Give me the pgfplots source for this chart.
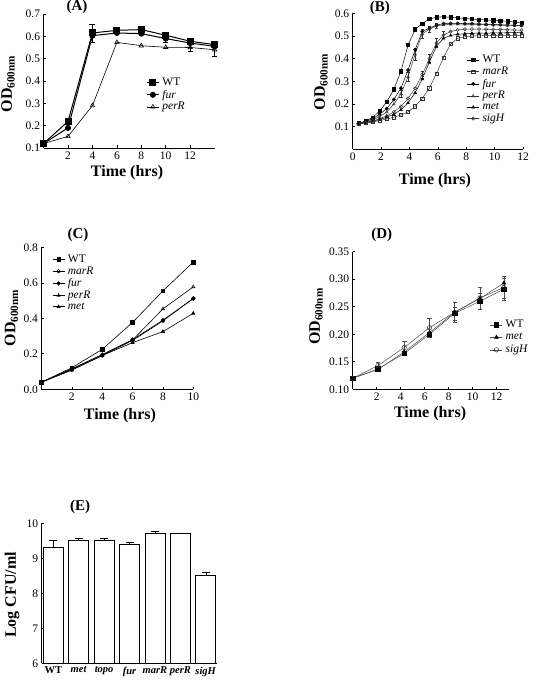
\documentclass[border=0pt]{standalone}
\usepackage{fontspec}
\setmainfont{Liberation Serif}
\usepackage{pgfplots}
\pgfplotsset{compat=1.18}
\newcommand\labfont{\fontsize{16}{18}\selectfont\bfseries}
\newcommand\titfont{\fontsize{15}{17}\selectfont\bfseries}
\pgfplotsset{
  every axis/.append style={
    scale only axis, axis lines*=left, clip=false,
    tick align=inside, major tick length=2.5pt,
    tick style={black, line width=0.6pt},
    axis line style={line width=0.8pt},
    ticklabel style={font=\fontsize{11.5}{13}\selectfont},
    /pgf/number format/assume math mode=true,
    legend cell align=left,
    legend style={draw=none, fill=none, font=\fontsize{11.5}{12}\selectfont, row sep=0.8pt, column sep=2pt, inner sep=0pt, nodes={inner sep=1pt}},
    legend image code/.code={\draw[mark repeat=2,mark phase=2,#1] plot coordinates {(0pt,0pt) (6pt,0pt) (12pt,0pt)};},
    error bars/error bar style={line width=0.5pt},
  },
}
\begin{document}
\begin{tikzpicture}
% ---------------- (A)
\begin{axis}[at={(43.6pt,535pt)}, anchor=south west, width=171pt, height=134pt,
  xmin=0, xmax=14, ymin=0.1, ymax=0.7, xtick={2,4,6,8,10,12},
  ytick={0.1,0.2,0.3,0.4,0.5,0.6,0.7},
  yticklabel style={/pgf/number format/.cd,fixed,fixed zerofill,precision=1},
  legend style={at={(0.6,0.53)}, anchor=north west}]
\addplot[black, line width=1pt, mark=square*, mark size=3pt, error bars/.cd, y dir=both, y explicit]
 coordinates {(0,0.12) (2,0.219) (4,0.615)+-(0,0.04) (6,0.627)+-(0,0.008) (8,0.63)+-(0,0.006) (10,0.605)+-(0,0.01) (12,0.578)+-(0,0.01) (14,0.563)+-(0,0.01)};
\addlegendentry{WT}
\addplot[black, line width=1pt, mark=*, mark size=2.5pt, error bars/.cd, y dir=both, y explicit]
 coordinates {(0,0.12) (2,0.19) (4,0.603) (6,0.615) (8,0.612) (10,0.59)+-(0,0.015) (12,0.57) (14,0.555)};
\addlegendentry{\textit{fur}}
\addplot[black, line width=0.6pt, mark=triangle, mark size=2.5pt, mark options={fill=white}, error bars/.cd, y dir=both, y explicit]
 coordinates {(0,0.12) (2,0.152) (4,0.29) (6,0.573) (8,0.558) (10,0.551) (12,0.55)+-(0,0.015) (14,0.54)+-(0,0.03)};
\addlegendentry{\textit{perR}}
\node[font=\titfont] at ([yshift=7pt]rel axis cs:0.195,1) {(A)};
\node[font=\labfont] at ([yshift=-25pt]rel axis cs:0.488,0) {Time (hrs)};
\node[font=\labfont, rotate=90] at ([xshift=-35.6pt]rel axis cs:0,0.478) {OD\textsubscript{600nm}};
\end{axis}
% ---------------- (B)
\begin{axis}[at={(352.7pt,533.6pt)}, anchor=south west, width=170.3pt, height=136pt,
  xmin=0, xmax=12, ymin=0, ymax=0.6, xtick={0,2,4,6,8,10,12},
  ytick={0.1,0.2,0.3,0.4,0.5,0.6},
  yticklabel style={/pgf/number format/.cd,fixed,fixed zerofill,precision=1},
  legend style={at={(0.67,0.7)}, anchor=north west},
  every axis plot/.append style={line width=0.5pt, mark size=1.6pt}]
\addplot[black, mark=square*] coordinates {(0.4,0.115) (0.9,0.125) (1.4,0.14) (1.9,0.17) (2.4,0.21) (2.9,0.265) (3.4,0.345) (3.9,0.46) (4.4,0.53) (4.9,0.555) (5.4,0.575) (5.9,0.583) (6.4,0.585) (6.9,0.583) (7.4,0.58) (7.9,0.578) (8.4,0.575) (8.9,0.573) (9.4,0.571) (9.9,0.57) (10.4,0.568) (10.9,0.565) (11.4,0.562) (11.9,0.558)};
\addlegendentry{WT}
\addplot[black!80, mark=square, mark options={fill=white}] coordinates {(0.4,0.112) (0.9,0.116) (1.4,0.121) (1.9,0.127) (2.4,0.134) (2.9,0.142) (3.4,0.152) (3.9,0.165) (4.4,0.19) (4.9,0.225) (5.4,0.27) (5.9,0.335) (6.4,0.405) (6.9,0.465) (7.4,0.49) (7.9,0.497) (8.4,0.5) (8.9,0.501) (9.4,0.502) (9.9,0.502) (10.4,0.503) (10.9,0.503) (11.4,0.503) (11.9,0.503)};
\addlegendentry{\textit{marR}}
\addplot[black, mark=*] coordinates {(0.4,0.115) (0.9,0.122) (1.4,0.135) (1.9,0.155) (2.4,0.18) (2.9,0.22) (3.4,0.27) (3.9,0.35) (4.4,0.44) (4.9,0.52) (5.4,0.535) (5.9,0.548) (6.4,0.555) (6.9,0.556) (7.4,0.556) (7.9,0.555) (8.4,0.555) (8.9,0.553) (9.4,0.552) (9.9,0.55) (10.4,0.55) (10.9,0.549) (11.4,0.548) (11.9,0.547)};
\addlegendentry{\textit{fur}}
\addplot[black!80, mark=triangle, mark options={fill=white}, error bars/.cd, y dir=both, y explicit] coordinates {(0.4,0.115) (0.9,0.12) (1.4,0.13) (1.9,0.145) (2.4,0.165) (2.9,0.2) (3.4,0.245)+-(0,0.015) (3.9,0.32)+-(0,0.02) (4.4,0.42)+-(0,0.025) (4.9,0.51)+-(0,0.02) (5.4,0.53)+-(0,0.015) (5.9,0.545)+-(0,0.01) (6.4,0.55) (6.9,0.552) (7.4,0.553) (7.9,0.552) (8.4,0.552) (8.9,0.551) (9.4,0.55) (9.9,0.549) (10.4,0.548) (10.9,0.547) (11.4,0.546) (11.9,0.545)};
\addlegendentry{\textit{perR}}
\addplot[black, mark=triangle*] coordinates {(0.4,0.113) (0.9,0.118) (1.4,0.124) (1.9,0.132) (2.4,0.142) (2.9,0.155) (3.4,0.175) (3.9,0.205) (4.4,0.25) (4.9,0.31) (5.4,0.385) (5.9,0.455) (6.4,0.49) (6.9,0.503) (7.4,0.508) (7.9,0.51) (8.4,0.512) (8.9,0.513) (9.4,0.513) (9.9,0.514) (10.4,0.514) (10.9,0.515) (11.4,0.515) (11.9,0.515)};
\addlegendentry{\textit{met}}
\addplot[black!80, mark=o, mark options={fill=white}, error bars/.cd, y dir=both, y explicit] coordinates {(0.4,0.113) (0.9,0.118) (1.4,0.125) (1.9,0.135) (2.4,0.148) (2.9,0.165) (3.4,0.19) (3.9,0.225) (4.4,0.27) (4.9,0.33)+-(0,0.015) (5.4,0.4)+-(0,0.02) (5.9,0.47)+-(0,0.02) (6.4,0.505)+-(0,0.015) (6.9,0.52) (7.4,0.527) (7.9,0.53) (8.4,0.531) (8.9,0.531) (9.4,0.53) (9.9,0.53) (10.4,0.529) (10.9,0.528) (11.4,0.527) (11.9,0.526)};
\addlegendentry{\textit{sigH}}
\node[font=\titfont] at ([yshift=6pt]rel axis cs:0.16,1) {(B)};
\node[font=\labfont] at ([yshift=-31pt]rel axis cs:0.483,0) {Time (hrs)};
\node[font=\labfont, rotate=90] at ([xshift=-31.7pt]rel axis cs:0,0.496) {OD\textsubscript{600nm}};
\end{axis}
% ---------------- (C)
\begin{axis}[at={(41.5pt,293.7pt)}, anchor=south west, width=151.8pt, height=142pt,
  xmin=0, xmax=10, ymin=0, ymax=0.8, xtick={2,4,6,8,10},
  ytick={0,0.2,0.4,0.6,0.8},
  yticklabel style={/pgf/number format/.cd,fixed,fixed zerofill,precision=1},
  legend style={at={(0.07,0.955)}, anchor=north west},
  every axis plot/.append style={line width=0.6pt, mark size=1.8pt}]
\addplot[black, mark=square*] coordinates {(0,0.04) (2,0.122) (4,0.225) (6,0.377) (8,0.554) (10,0.717)};
\addlegendentry{WT}
\addplot[black, mark=o, mark options={fill=white}] coordinates {(0,0.04) (2,0.11) (4,0.19) (6,0.275) (8,0.385) (10,0.513)};
\addlegendentry{\textit{marR}}
\addplot[black, mark=*] coordinates {(0,0.04) (2,0.115) (4,0.195) (6,0.28) (8,0.39) (10,0.51)};
\addlegendentry{\textit{fur}}
\addplot[black, mark=triangle, mark options={fill=white}] coordinates {(0,0.04) (2,0.115) (4,0.195) (6,0.278) (8,0.453) (10,0.577)};
\addlegendentry{\textit{perR}}
\addplot[black, mark=triangle*] coordinates {(0,0.04) (2,0.108) (4,0.19) (6,0.263) (8,0.325) (10,0.428)};
\addlegendentry{\textit{met}}
\node[font=\titfont] at ([yshift=12pt]rel axis cs:0.24,1) {(C)};
\node[font=\labfont] at ([yshift=-26pt]rel axis cs:0.517,0) {Time (hrs)};
\node[font=\labfont, rotate=90] at ([xshift=-30pt]rel axis cs:0,0.502) {OD\textsubscript{600nm}};
\end{axis}
% ---------------- (D)
\begin{axis}[at={(352.7pt,293.7pt)}, anchor=south west, width=156pt, height=137.6pt,
  xmin=0, xmax=13, ymin=0.1, ymax=0.35, xtick={2,4,6,8,10,12},
  ytick={0.1,0.15,0.2,0.25,0.3,0.35},
  yticklabel style={/pgf/number format/.cd,fixed,fixed zerofill,precision=2},
  legend style={at={(0.88,0.51)}, anchor=north west, row sep=2pt},
  every axis plot/.append style={line width=0.5pt, mark size=2.2pt}]
\addplot[black!70, mark=square*, mark options={black}, error bars/.cd, y dir=both, y explicit] coordinates {(0,0.12) (2.1,0.137) (4.3,0.165) (6.4,0.2) (8.5,0.238)+-(0,0.012) (10.6,0.26)+-(0,0.015) (12.6,0.282)+-(0,0.02)};
\addlegendentry{WT}
\addplot[black!70, mark=triangle*, mark options={black}] coordinates {(0,0.12) (2.1,0.136) (4.3,0.168) (6.4,0.203) (8.5,0.24) (10.6,0.265) (12.6,0.293)};
\addlegendentry{\textit{met}}
\addplot[black!70, mark=o, mark options={fill=white,black!80}, error bars/.cd, y dir=both, y explicit] coordinates {(0,0.12) (2.1,0.143)+-(0,0.006) (4.3,0.176)+-(0,0.012) (6.4,0.212)+-(0,0.018) (8.5,0.24)+-(0,0.018) (10.6,0.266)+-(0,0.02) (12.6,0.285)+-(0,0.02)};
\addlegendentry{\textit{sigH}}
\node[font=\titfont] at ([yshift=16.7pt]rel axis cs:0.186,1) {(D)};
\node[font=\labfont] at ([yshift=-24pt]rel axis cs:0.496,0) {Time (hrs)};
\node[font=\labfont, rotate=90] at ([xshift=-36.7pt]rel axis cs:0,0.529) {OD\textsubscript{600nm}};
\end{axis}
% ---------------- (E)
\begin{axis}[at={(41.7pt,19.7pt)}, anchor=south west, width=175pt, height=140pt,
  clip mode=individual,
  xmin=-0.457, xmax=6.43, ymin=6, ymax=10, ytick={6,7,8,9,10},
  xtick={0,1,2,3,4,5,6}, major x tick style={draw=none},
  xticklabels={\textbf{WT},\textbf{\textit{met}},\textbf{\textit{topo}},\textbf{\textit{fur}},\textbf{\textit{marR}},\textbf{\textit{perR}},\textbf{\textit{sigH}}},
  xticklabel style={font=\fontsize{10.5}{12}\selectfont}]
\addplot[ybar, bar width=0.79, fill=white, draw=black, line width=0.7pt, error bars/.cd, y dir=plus, y explicit, error mark options={rotate=90, mark size=4pt}] coordinates {(0,9.3)+-(0,0.21) (1,9.5)+-(0,0.07) (2,9.5)+-(0,0.07) (3,9.4)+-(0,0.07) (4,9.7)+-(0,0.07) (5,9.7)+-(0,0.01) (6,8.5)+-(0,0.1)};
\node[font=\titfont] at ([yshift=16.6pt]rel axis cs:0.219,1) {(E)};
\node[font=\labfont, rotate=90] at ([xshift=-29.7pt]rel axis cs:0,0.488) {Log CFU/ml};
\end{axis}
\pgfresetboundingbox
\useasboundingbox (0,0) rectangle (538pt,683pt);
\end{tikzpicture}
\end{document}
